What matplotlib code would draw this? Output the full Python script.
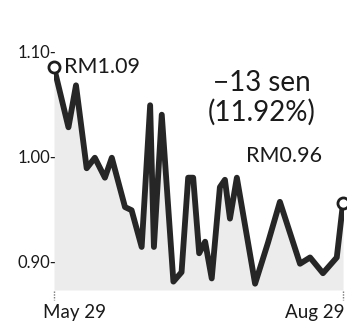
import matplotlib
matplotlib.use("Agg")
import matplotlib.pyplot as plt
import matplotlib.transforms as mtransforms

# data (days after May 29, price in RM)
days = [0, 4.6, 7.0, 10.4, 13.0, 16.2, 18.4, 22.6, 24.7, 27.9, 30.6, 31.8, 34.3,
        38.0, 40.6, 42.7, 44.3, 46.2, 48.1, 50.2, 52.8, 54.4, 56.0, 58.2, 64.0,
        68.1, 71.9, 78.3, 81.5, 85.6, 90.0, 92]
prices = [1.085, 1.028, 1.068, 0.989, 0.999, 0.980, 0.999, 0.952, 0.949, 0.914,
          1.049, 0.914, 1.040, 0.881, 0.890, 0.980, 0.980, 0.908, 0.919, 0.884,
          0.971, 0.978, 0.941, 0.980, 0.879, 0.918, 0.957, 0.898, 0.904, 0.889,
          0.904, 0.956]
ytick_vals = [0.90, 1.00, 1.10]
ytick_labels = ["0.90-", "1.00-", "1.10-"]
xtick_vals = [0, 92]
xtick_labels = ["May 29", "Aug 29"]
start_label = "RM1.09"
end_label = "RM0.96"
change_label = "\u221213 sen\n(11.92%)"

plt.rcParams['font.family'] = ['Lato', 'DejaVu Sans']

fig = plt.figure(figsize=(3.47, 3.25), dpi=100)
fig.patch.set_facecolor('white')
ax = fig.add_axes([54/347, 35/325, 290/347, 260/325])
ax.set_facecolor('white')

ybot = 0.873
ax.fill_between(days, prices, ybot, color='#ececec', lw=0, zorder=1)
ax.plot(days, prices, color='#262626', lw=4.2, solid_joinstyle='round',
        solid_capstyle='round', zorder=3)
ax.plot([days[0], days[-1]], [prices[0], prices[-1]], 'o', ms=8, mfc='white',
        mec='#1e1e1e', mew=2.0, zorder=4, clip_on=False)

ax.set_xlim(0, 92.3)
ax.set_ylim(ybot, 1.1207)
for s in ax.spines.values():
    s.set_visible(False)

ax.set_yticks(ytick_vals)
ax.set_yticklabels(ytick_labels)
ax.tick_params(axis='y', length=0, pad=-2, labelsize=12, labelcolor='#1a1a1a')

ax.set_xticks([])
tr = mtransforms.blended_transform_factory(ax.transData, ax.transAxes)
for xv, lab, ha, off in zip(xtick_vals, xtick_labels, ['center', 'right'], [15, 1]):
    ax.plot([xv, xv], [-0.005, -0.04], transform=tr,
            color='#777777', lw=1, ls=(0, (1, 1)), clip_on=False)
    ax.annotate(lab, xy=(xv, 0), xycoords=('data', 'axes fraction'),
                xytext=(off, -16), textcoords='offset points', ha=ha,
                va='center', fontsize=13.5, color='#1a1a1a')

ax.annotate(start_label, xy=(days[0], prices[0]), xytext=(7, 0),
            textcoords='offset points', ha='left', va='center', fontsize=15.5,
            color='#1a1a1a', zorder=5)
ax.annotate(end_label, xy=(days[-1], prices[-1]), xytext=(-15, 34),
            textcoords='offset points', ha='right', va='center', fontsize=15.5,
            color='#1a1a1a', zorder=5)
ax.text(0.531, 0.74, change_label, transform=ax.transAxes, ha='left',
        va='center', fontsize=20, color='#1a1a1a', linespacing=1.12,
        multialignment='center')

fig.savefig('out.png', dpi=100)
